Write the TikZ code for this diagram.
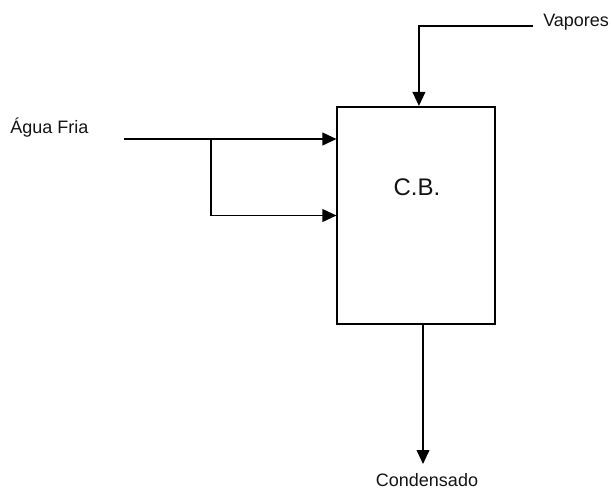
\documentclass[tikz,border=0pt]{standalone}
\usepackage{fontspec}
\setmainfont{Liberation Sans}
\usepackage{tikz}
\usetikzlibrary{calc,arrows.meta,positioning}
\definecolor{cbLine}{RGB}{0,0,0}
\definecolor{cbText}{RGB}{20,20,20}

\begin{document}
\begin{tikzpicture}[x=0.75pt,y=-0.75pt,
  flowline/.style={cbLine, line width=1.3pt, -{Triangle[length=10.5pt,width=9.5pt]}},
  lbl/.style={text=cbText, font=\fontsize{13.5}{16}\selectfont, inner sep=0pt}]
\useasboundingbox (0,0) rectangle (611,490);
% condenser
\node[draw=cbLine, line width=1.3pt, minimum width=118pt, minimum height=163pt, inner sep=0pt] (box) at (416,215.5) {};
\node[text=cbText, font=\fontsize{18}{21}\selectfont] (cb) at (417,187) {C.B.};
% labels
\node[lbl, anchor=west] (vapores) at (543,22) {Vapores};
\node[lbl, anchor=west] (agua) at (10,128) {Água Fria};
\node[lbl] (cond) at (427,480) {Condensado};
\coordinate (vapin) at (533,26);
\coordinate (aguain) at (124,139);
\coordinate (split) at (211,139);
\coordinate (condout) at (423,464);
% connectors
\draw[flowline] (vapin) -| ([xshift=2.2pt]box.north);
\draw[flowline] (aguain) -- (aguain -| box.west);
\draw[flowline] (split) |- (box.west);
\draw[flowline] (box.south -| condout) -- (condout);
\end{tikzpicture}
\end{document}
